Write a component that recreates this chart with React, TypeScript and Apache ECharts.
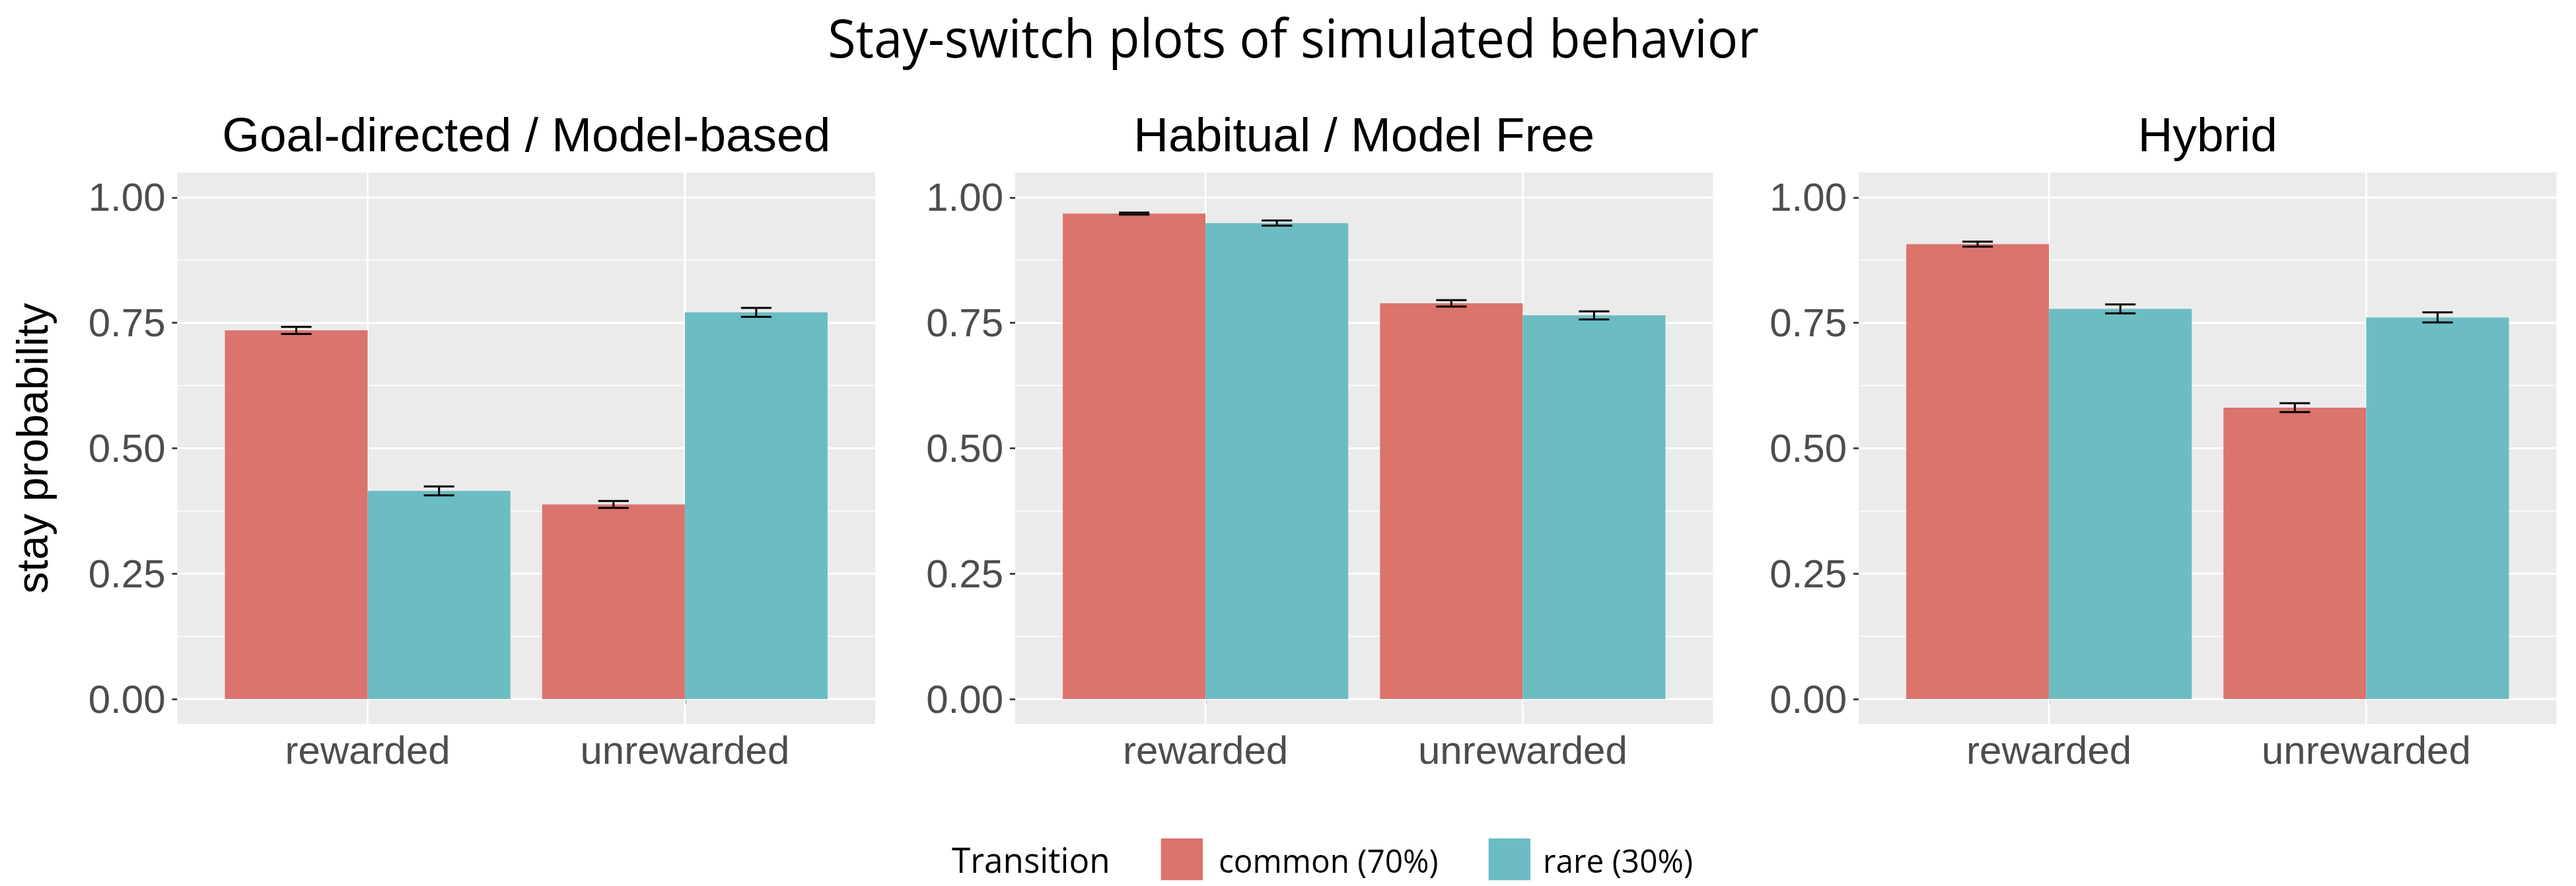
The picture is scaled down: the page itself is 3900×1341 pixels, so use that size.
import React, { useEffect, useRef } from 'react';
import * as echarts from 'echarts';

// ---------- data ----------
const mainTitle = 'Stay-switch plots of simulated behavior';
const panelTitles = ['Goal-directed / Model-based', 'Habitual / Model Free', 'Hybrid'];
const categories = ['rewarded', 'unrewarded'];
const transitions = ['common (70%)', 'rare (30%)'];
const legendTitle = 'Transition';
const yAxisTitle = 'stay probability';
const yTicks = [0, 0.25, 0.5, 0.75, 1];
const yMinorTicks = [0.125, 0.375, 0.625, 0.875];

const goalCommon = [0.735, 0.388];
const goalRare = [0.415, 0.771];
const goalCommonErr = [0.007, 0.007];
const goalRareErr = [0.009, 0.009];

const habitCommon = [0.968, 0.789];
const habitRare = [0.949, 0.765];
const habitCommonErr = [0.002, 0.0065];
const habitRareErr = [0.005, 0.008];

const hybridCommon = [0.907, 0.581];
const hybridRare = [0.778, 0.761];
const hybridCommonErr = [0.005, 0.009];
const hybridRareErr = [0.009, 0.01];

const panelValues = [
  [goalCommon, goalRare],
  [habitCommon, habitRare],
  [hybridCommon, hybridRare],
];
const panelErrors = [
  [goalCommonErr, goalRareErr],
  [habitCommonErr, habitRareErr],
  [hybridCommonErr, hybridRareErr],
];

// ---------- styling / layout ----------
const COLORS = ['#DA746C', '#6BBDC3'];
const PANEL_LEFT = [268.5, 1537, 2814];
const PANEL_TOP = 261;
const PANEL_W = 1056.5;
const PANEL_H = 835;
const X_MIN = 0.4;
const X_MAX = 2.6;
const Y_MIN = -0.05;
const Y_MAX = 1.05;
const DODGE = [-0.225, 0.225];
const BAR_HALF = 0.225;
const CAP_HALF = 0.048;
const ARIAL = '"Liberation Sans", Arial, sans-serif';
const CALIBRI = '"Open Sans", sans-serif';
const CAL_SCALE = 0.955;

function buildOption() {
  const grid: any[] = [];
  const xAxis: any[] = [];
  const yAxis: any[] = [];
  const series: any[] = [];
  const catPos = categories.map((_, i) => i + 1);

  for (let p = 0; p < 3; p++) {
    grid.push({
      left: PANEL_LEFT[p],
      top: PANEL_TOP,
      width: PANEL_W,
      height: PANEL_H,
      show: true,
      backgroundColor: '#EBEBEB',
      borderWidth: 0,
      containLabel: false,
    });
    xAxis.push({
      type: 'value',
      gridIndex: p,
      min: X_MIN,
      max: X_MAX,
      axisLine: { show: false },
      splitLine: { show: false },
      axisTick: { show: true, customValues: catPos, length: 8, lineStyle: { color: '#333333', width: 2.7 } },
      axisLabel: {
        show: true,
        customValues: catPos,
        formatter: (v: number) => categories[Math.round(v) - 1] ?? '',
        fontSize: 60,
        fontFamily: ARIAL,
        color: '#4D4D4D',
        margin: 9,
      },
    });
    yAxis.push({
      type: 'value',
      gridIndex: p,
      min: Y_MIN,
      max: Y_MAX,
      axisLine: { show: false },
      splitLine: { show: false },
      axisTick: { show: true, customValues: yTicks, length: 8, lineStyle: { color: '#333333', width: 2.7 } },
      axisLabel: {
        show: true,
        customValues: yTicks,
        formatter: (v: number) => v.toFixed(2),
        fontSize: 60,
        fontFamily: ARIAL,
        color: '#4D4D4D',
        margin: 18,
      },
    });

    const hLine = (width: number) => (params: any, api: any) => {
      const v = api.value(0);
      const a = api.coord([X_MIN, v]);
      const b = api.coord([X_MAX, v]);
      return { type: 'line', shape: { x1: a[0], y1: a[1], x2: b[0], y2: b[1] }, style: { stroke: '#FFFFFF', lineWidth: width } };
    };
    series.push({
      type: 'custom', xAxisIndex: p, yAxisIndex: p, silent: true, z: 1,
      data: yMinorTicks.map((v) => [v]),
      encode: { y: 0 },
      renderItem: hLine(1.5),
    });
    series.push({
      type: 'custom', xAxisIndex: p, yAxisIndex: p, silent: true, z: 1,
      data: yTicks.map((v) => [v]),
      encode: { y: 0 },
      renderItem: hLine(3),
    });
    series.push({
      type: 'custom', xAxisIndex: p, yAxisIndex: p, silent: true, z: 1,
      data: catPos.map((v) => [v]),
      encode: { x: 0 },
      renderItem: (params: any, api: any) => {
        const x = api.value(0);
        const a = api.coord([x, Y_MIN]);
        const b = api.coord([x, Y_MAX]);
        return { type: 'line', shape: { x1: a[0], y1: a[1], x2: b[0], y2: b[1] }, style: { stroke: '#FFFFFF', lineWidth: 3 } };
      },
    });

    for (let s = 0; s < 2; s++) {
      const vals = panelValues[p][s];
      const errs = panelErrors[p][s];
      const off = DODGE[s];
      const color = COLORS[s];
      series.push({
        type: 'custom', name: transitions[s], xAxisIndex: p, yAxisIndex: p, z: 2,
        itemStyle: { color },
        data: catPos.map((x, j) => [x, vals[j]]),
        renderItem: (params: any, api: any) => {
          const x = api.value(0) + off;
          const v = api.value(1);
          const a = api.coord([x - BAR_HALF, v]);
          const b = api.coord([x + BAR_HALF, 0]);
          return { type: 'rect', shape: { x: a[0], y: a[1], width: b[0] - a[0], height: b[1] - a[1] }, style: { fill: color } };
        },
      });
      series.push({
        type: 'custom', xAxisIndex: p, yAxisIndex: p, z: 3, silent: true,
        data: catPos.map((x, j) => [x, vals[j], errs[j]]),
        renderItem: (params: any, api: any) => {
          const x = api.value(0) + off;
          const v = api.value(1);
          const e = api.value(2);
          const top = api.coord([x, v + e]);
          const bot = api.coord([x, v - e]);
          const tl = api.coord([x - CAP_HALF, v + e]);
          const tr = api.coord([x + CAP_HALF, v + e]);
          const bl = api.coord([x - CAP_HALF, v - e]);
          const br = api.coord([x + CAP_HALF, v - e]);
          const st = { stroke: '#000000', lineWidth: 3 };
          return {
            type: 'group',
            children: [
              { type: 'line', shape: { x1: top[0], y1: top[1], x2: bot[0], y2: bot[1] }, style: st },
              { type: 'line', shape: { x1: tl[0], y1: tl[1], x2: tr[0], y2: tr[1] }, style: st },
              { type: 'line', shape: { x1: bl[0], y1: bl[1], x2: br[0], y2: br[1] }, style: st },
            ],
          };
        },
      });
    }
  }

  const graphic: any[] = [];
  graphic.push({
    type: 'text', x: 1958, y: 56, scaleX: 0.967,
    style: { text: mainTitle, fontSize: 80, fontFamily: CALIBRI, fill: '#000000', align: 'center', verticalAlign: 'middle' },
  });
  for (let p = 0; p < 3; p++) {
    graphic.push({
      type: 'text', x: PANEL_LEFT[p] + PANEL_W / 2, y: 203,
      style: { text: panelTitles[p], fontSize: 73, fontFamily: ARIAL, fill: '#000000', align: 'center', verticalAlign: 'middle' },
    });
  }
  graphic.push({
    type: 'text', x: 49, y: PANEL_TOP + PANEL_H / 2, rotation: Math.PI / 2,
    style: { text: yAxisTitle, fontSize: 66, fontFamily: ARIAL, fill: '#000000', align: 'center', verticalAlign: 'middle' },
  });
  // legend
  graphic.push({
    type: 'text', x: 1441, y: 1300, scaleX: CAL_SCALE,
    style: { text: legendTitle, fontSize: 53.6, fontFamily: CALIBRI, fill: '#000000', align: 'left', verticalAlign: 'middle' },
  });
  const keyX = [1757.7, 2253.7];
  const labX = [1845, 2336];
  for (let s = 0; s < 2; s++) {
    graphic.push({ type: 'rect', shape: { x: keyX[s], y: 1269, width: 63.3, height: 63.3 }, style: { fill: COLORS[s] } });
    graphic.push({
      type: 'text', x: labX[s], y: 1302, scaleX: CAL_SCALE,
      style: { text: transitions[s], fontSize: 50, fontFamily: CALIBRI, fill: '#000000', align: 'left', verticalAlign: 'middle' },
    });
  }

  return {
    animation: false,
    backgroundColor: '#FFFFFF',
    grid,
    xAxis,
    yAxis,
    series,
    graphic,
  };
}

export default function App() {
  const ref = useRef<HTMLDivElement>(null);
  useEffect(() => {
    if (!ref.current) return;
    const chart = echarts.init(ref.current, undefined, { renderer: 'svg', width: 3900, height: 1341 });
    chart.setOption(buildOption() as any);
    return () => chart.dispose();
  }, []);
  return <div ref={ref} style={{ position: 'absolute', left: 0, top: 0, width: 3900, height: 1341 }} />;
}
